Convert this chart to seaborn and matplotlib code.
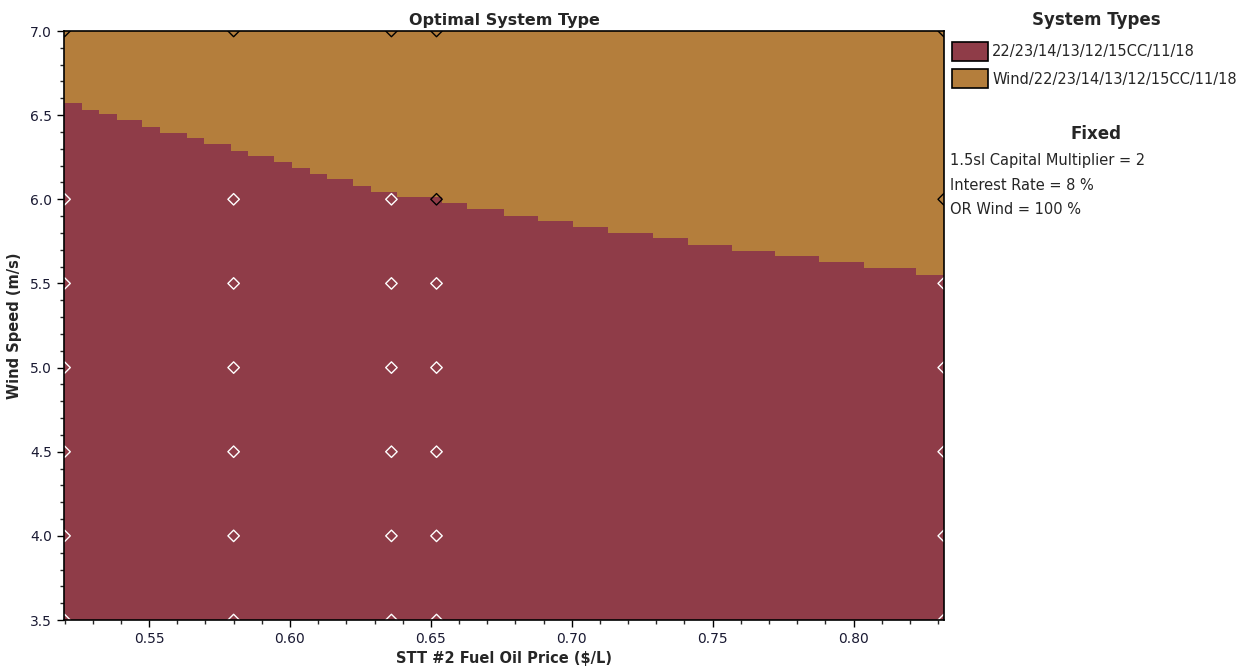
import numpy as np
import pandas as pd
import seaborn as sns
import matplotlib.pyplot as plt
from matplotlib.patches import Patch

# colours of the two system types
RED = "#8F3C48"
ORANGE = "#B47E3C"

# boundary between the two optimal system types (staircase)
price_edges = [0.5198, 0.5262, 0.5323, 0.5386, 0.5475, 0.5539, 0.5635, 0.5695,
               0.5791, 0.5851, 0.5944, 0.6008, 0.6071, 0.6132, 0.6224, 0.6288,
               0.6380, 0.6540, 0.6629, 0.6760, 0.6880, 0.7005, 0.7129, 0.7289,
               0.7413, 0.7569, 0.7721, 0.7878, 0.8037, 0.8222, 0.8321]
wind_boundary = [6.570, 6.532, 6.505, 6.469, 6.429, 6.392, 6.362, 6.326, 6.286,
                 6.258, 6.223, 6.183, 6.148, 6.118, 6.080, 6.044, 6.013, 5.975,
                 5.940, 5.900, 5.872, 5.834, 5.797, 5.767, 5.731, 5.693, 5.664,
                 5.628, 5.589, 5.553]

# sensitivity points
fuel_prices = [0.52, 0.58, 0.636, 0.652, 0.832]
wind_speeds = [3.5, 4.0, 4.5, 5.0, 5.5, 6.0, 7.0]
# optimal type at each point (1 = wind system), rows follow wind_speeds
optimal_grid = [
    [0, 0, 0, 0, 0],
    [0, 0, 0, 0, 0],
    [0, 0, 0, 0, 0],
    [0, 0, 0, 0, 0],
    [0, 0, 0, 0, 0],
    [0, 0, 0, 1, 1],
    [1, 1, 1, 1, 1],
]

type_labels = ["22/23/14/13/12/15CC/11/18", "Wind/22/23/14/13/12/15CC/11/18"]
fixed_lines = ["1.5sl Capital Multiplier = 2", "Interest Rate = 8 %", "OR Wind = 100 %"]

sns.set_style("ticks")
plt.rcParams['font.family'] = ['DejaVu Sans']

fig = plt.figure(figsize=(12.57, 6.67), dpi=100)
ax = fig.add_axes([64 / 1257, 47 / 667, 880 / 1257, 589 / 667])

xmin, xmax = price_edges[0], price_edges[-1]
ymin, ymax = 3.5, 7.0

# whole area is the wind system, red stairs below the boundary
ax.axvspan(xmin, xmax, color=ORANGE, lw=0)
ax.stairs(wind_boundary, price_edges, baseline=ymin, fill=True, color=RED, lw=0)

# sensitivity points as hollow diamonds (clipped at the frame)
rows = []
for i, ws in enumerate(wind_speeds):
    for j, fp in enumerate(fuel_prices):
        rows.append({"price": fp, "wind": ws, "type": optimal_grid[i][j]})
pts = pd.DataFrame(rows)

for t, edge in [(0, "white"), (1, "black")]:
    sub = pts[pts["type"] == t]
    sns.scatterplot(data=sub, x="price", y="wind", marker="D", s=34,
                    facecolor="none", edgecolor=edge, linewidth=1.0,
                    ax=ax, zorder=5, legend=False)
for c in ax.collections:
    c.set_clip_on(True)
    c.set_clip_path(ax.patch)

ax.set_xlim(xmin, xmax)
ax.set_ylim(ymin, ymax)
ax.set_xticks([0.55, 0.60, 0.65, 0.70, 0.75, 0.80])
ax.set_xticklabels(["0.55", "0.60", "0.65", "0.70", "0.75", "0.80"])
ax.set_xticks(np.arange(0.52, 0.835, 0.01), minor=True)
ax.set_yticks([3.5, 4.0, 4.5, 5.0, 5.5, 6.0, 6.5, 7.0])
ax.set_yticklabels(["3.5", "4.0", "4.5", "5.0", "5.5", "6.0", "6.5", "7.0"])
ax.set_yticks(np.arange(3.5, 7.01, 0.1), minor=True)
ax.tick_params(axis="both", which="major", length=5, width=1, labelsize=10,
               colors="black", labelcolor="#1a1a33", direction="out")
ax.tick_params(axis="both", which="minor", length=3, width=1, direction="out")
for s in ax.spines.values():
    s.set_linewidth(1.2)
    s.set_color("black")
    s.set_zorder(6)

ax.set_title("Optimal System Type", fontsize=11.5, fontweight="bold", pad=4)
ax.set_xlabel("STT #2 Fuel Oil Price ($/L)", fontsize=10.5, fontweight="bold", labelpad=4)
ax.set_ylabel("Wind Speed (m/s)", fontsize=10.5, fontweight="bold", labelpad=6)

# legend of system types
fig.text(1096 / 1257, 1 - 20 / 667, "System Types", ha="center", va="center",
         fontsize=12, fontweight="bold")
handles = [Patch(facecolor=RED, edgecolor="black", lw=1.2),
           Patch(facecolor=ORANGE, edgecolor="black", lw=1.2)]
fig.legend(handles, type_labels, loc="upper left",
           bbox_to_anchor=(952 / 1257, 1 - 42 / 667), frameon=False,
           fontsize=10.5, borderpad=0, borderaxespad=0,
           handlelength=2.45, handleheight=1.65, handletextpad=0.3,
           labelspacing=0.55)

fig.text(1096 / 1257, 1 - 134 / 667, "Fixed", ha="center", va="center",
         fontsize=12, fontweight="bold")
for k, line in enumerate(fixed_lines):
    fig.text(950 / 1257, 1 - (161 + 24.5 * k) / 667, line, ha="left",
             va="center", fontsize=10.5)

fig.savefig("out.png", dpi=100)
